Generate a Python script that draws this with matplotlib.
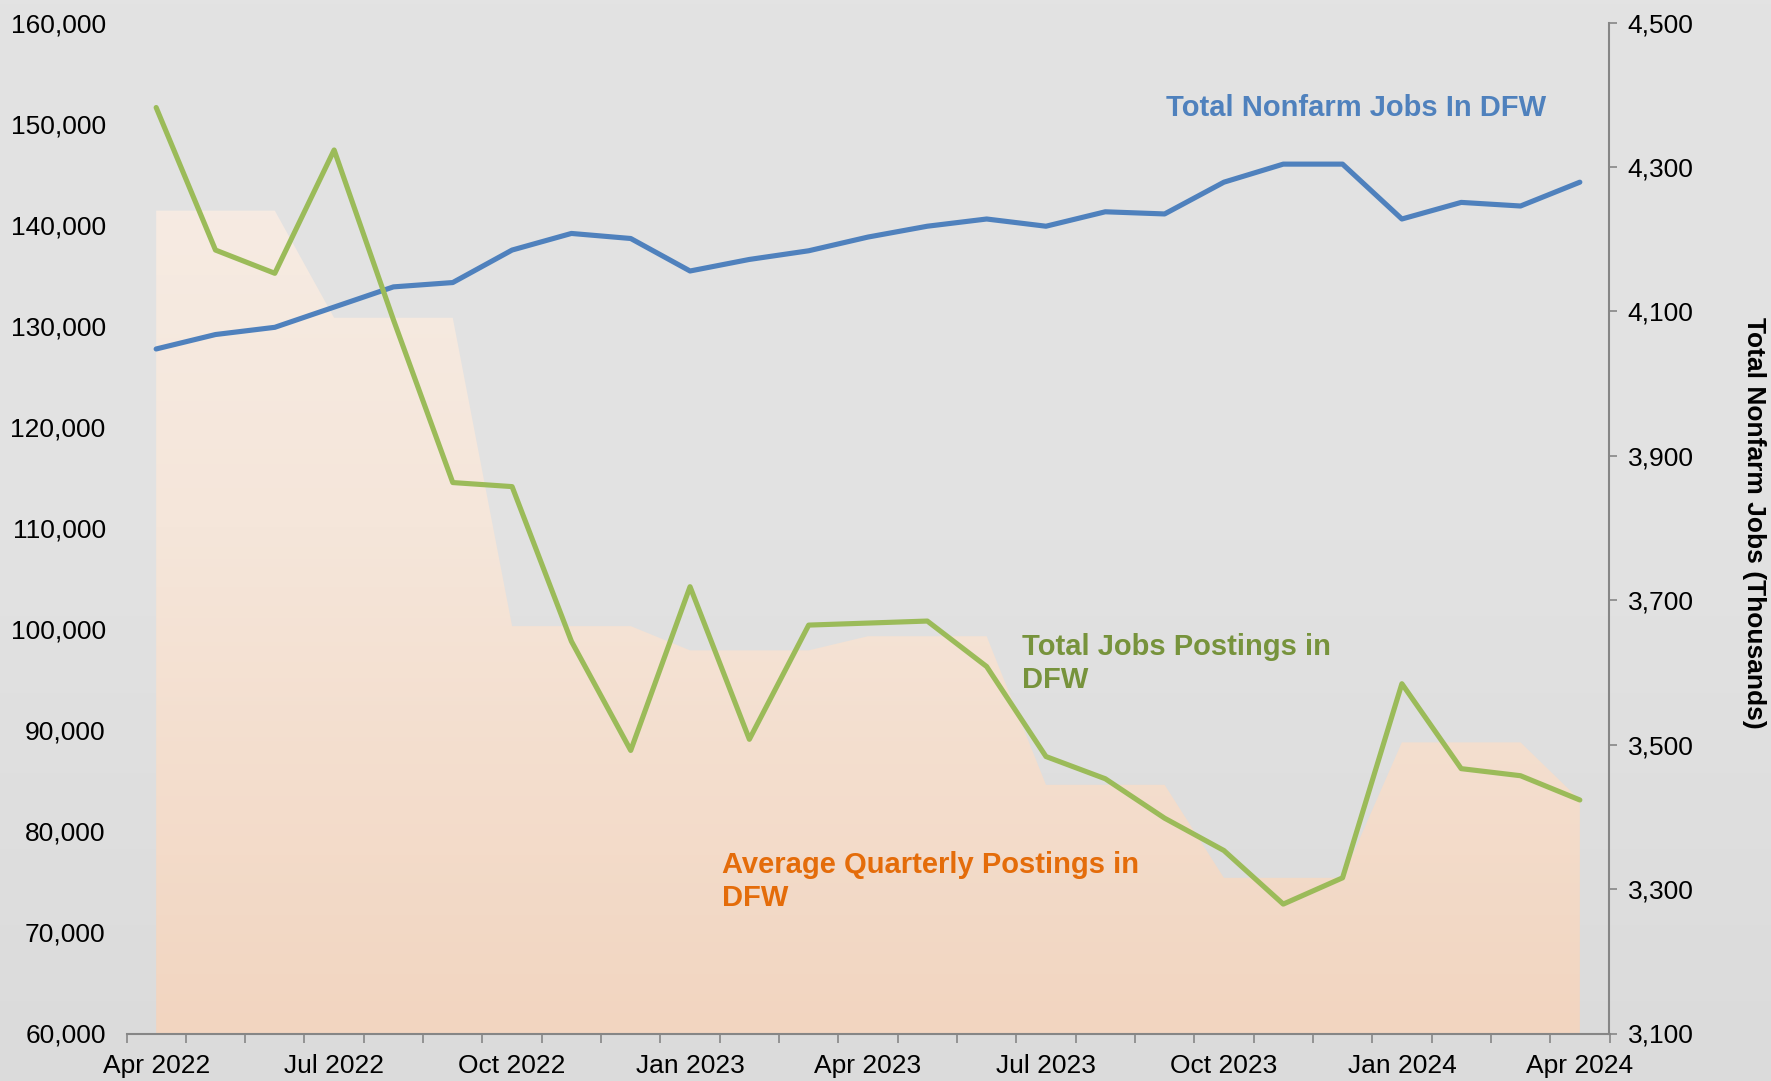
import numpy as np
import matplotlib
matplotlib.use('Agg')
import matplotlib.pyplot as plt
from matplotlib.colors import LinearSegmentedColormap

plt.rcParams['font.family'] = ['Liberation Sans', 'DejaVu Sans']

# ---------------- data ----------------
months = ['Apr 2022', 'May 2022', 'Jun 2022', 'Jul 2022', 'Aug 2022', 'Sep 2022',
          'Oct 2022', 'Nov 2022', 'Dec 2022', 'Jan 2023', 'Feb 2023', 'Mar 2023',
          'Apr 2023', 'May 2023', 'Jun 2023', 'Jul 2023', 'Aug 2023', 'Sep 2023',
          'Oct 2023', 'Nov 2023', 'Dec 2023', 'Jan 2024', 'Feb 2024', 'Mar 2024',
          'Apr 2024']
tick_labels = ['Apr 2022', 'Jul 2022', 'Oct 2022', 'Jan 2023', 'Apr 2023',
               'Jul 2023', 'Oct 2023', 'Jan 2024', 'Apr 2024']
total_postings = [151600, 137500, 135200, 147400, 130600, 114500, 114100, 98800,
                  88000, 104200, 89100, 100400, 100600, 100800, 96300, 87400,
                  85200, 81300, 78100, 72800, 75400, 94600, 86200, 85500, 83100]
avg_quarterly_postings = [141400, 141400, 141400, 130800, 130800, 130800, 100300,
                          100300, 100300, 97900, 97900, 97900, 99300, 99300, 99300,
                          84600, 84600, 84600, 75400, 75400, 75400, 88800, 88800,
                          88800, 83100]
nonfarm_jobs = [4048, 4068, 4078, 4106, 4134, 4140, 4185, 4208, 4201, 4156, 4172,
                4184, 4203, 4218, 4228, 4218, 4238, 4235, 4279, 4304, 4304, 4228,
                4251, 4246, 4279]
left_ticks = list(range(60000, 160001, 10000))
right_ticks = list(range(3100, 4501, 200))

# ---------------- figure ----------------
W, H = 1771, 1081
fig = plt.figure(figsize=(W / 100, H / 100), dpi=100)

# background gradient
bg = fig.add_axes([0, 0, 1, 1], zorder=-10)
bg_cmap = LinearSegmentedColormap.from_list('bg', ['#E3E3E3', '#E2E2E2', '#DBDBDB'])
bg.imshow(np.linspace(0, 1, 256).reshape(-1, 1), aspect='auto', cmap=bg_cmap,
          extent=[0, 1, 0, 1], origin='upper')
bg.axis('off')

left, right_px, top_px, bottom_px = 126.5, 1609.5, 22.6, 1033.5
ax = fig.add_axes([left / W, 1 - bottom_px / H, (right_px - left) / W,
                   (bottom_px - top_px) / H])
ax.patch.set_visible(False)
ax2 = ax.twinx()
ax3 = ax.twinx()

x = np.arange(len(months))

# area with gradient fill
ax.set_xlim(-0.5, len(months) - 0.5)
ax.set_ylim(60000, 160000)
poly = ax.fill_between(x, 60000, avg_quarterly_postings, color='none', lw=0)
area_cmap = LinearSegmentedColormap.from_list('area', ['#F7EEE7', '#F5E6DA', '#F2D5C0'])
im = ax.imshow(np.linspace(0, 1, 256).reshape(-1, 1), aspect='auto', cmap=area_cmap,
               extent=[-0.5, len(months) - 0.5, 60000, 160000], origin='upper',
               zorder=1)
im.set_clip_path(poly.get_paths()[0], transform=ax.transData)
ax.set_xlim(-0.5, len(months) - 0.5)
ax.set_ylim(60000, 160000)

gray = '#868686'
for s in ['left', 'top', 'right']:
    ax.spines[s].set_visible(False)
ax.spines['bottom'].set_color(gray)
ax.spines['bottom'].set_linewidth(1.5)
ax.spines['bottom'].set_zorder(5)

ax.set_yticks(left_ticks)
ax.set_yticklabels([f'{v:,}' for v in left_ticks])
ax.tick_params(axis='y', length=0, pad=15, labelsize=19, colors='black')

tick_pos = [months.index(t) for t in tick_labels]
ax.set_xticks(tick_pos)
ax.set_xticklabels(tick_labels)
ax.set_xticks(np.arange(-0.5, len(months), 1.0), minor=True)
ax.tick_params(axis='x', which='major', length=0, pad=15, labelsize=19)
ax.tick_params(axis='x', which='minor', length=6.5, width=1.2, color=gray,
               direction='out')

# right axis: nonfarm jobs
ax2.plot(x, nonfarm_jobs, color='#4F81BD', lw=3.7, solid_joinstyle='round',
         solid_capstyle='round', zorder=3)
ax2.set_ylim(3100, 4500)
ax2.set_yticks(right_ticks)
ax2.set_yticklabels([f'{v:,}' for v in right_ticks])
for s in ['left', 'top', 'bottom']:
    ax2.spines[s].set_visible(False)
ax2.spines['right'].set_color(gray)
ax2.spines['right'].set_linewidth(1.5)
ax2.tick_params(axis='y', length=6, width=1.2, color=gray, pad=7, labelsize=19,
                labelcolor='black')
ax2.set_ylabel('Total Nonfarm Jobs (Thousands)', fontsize=19, fontweight='bold',
               rotation=270)
ax2.yaxis.set_label_coords((1754 - left) / (right_px - left),
                           1 - (523 - top_px) / (bottom_px - top_px))
ax2.yaxis.label.set_va('center')
ax2.yaxis.label.set_ha('center')

# top layer: postings line (left scale)
ax3.set_ylim(60000, 160000)
ax3.set_xlim(-0.5, len(months) - 0.5)
ax3.plot(x, total_postings, color='#9BBB59', lw=3.7, solid_joinstyle='round',
         solid_capstyle='round', zorder=3)
ax3.axis('off')

# annotations
ax3.text(17.02, 151600, 'Total Nonfarm Jobs In DFW', color='#4F81BD',
         fontsize=21, fontweight='bold', ha='left', va='center')
ax3.text(14.59, 96600, 'Total Jobs Postings in\nDFW', color='#77933C',
         fontsize=21, fontweight='bold', ha='left', va='center', linespacing=1.2)
ax3.text(9.54, 75030, 'Average Quarterly Postings in\nDFW', color='#E46C0A',
         fontsize=21, fontweight='bold', ha='left', va='center', linespacing=1.2)

fig.savefig('out.png', dpi=100)
